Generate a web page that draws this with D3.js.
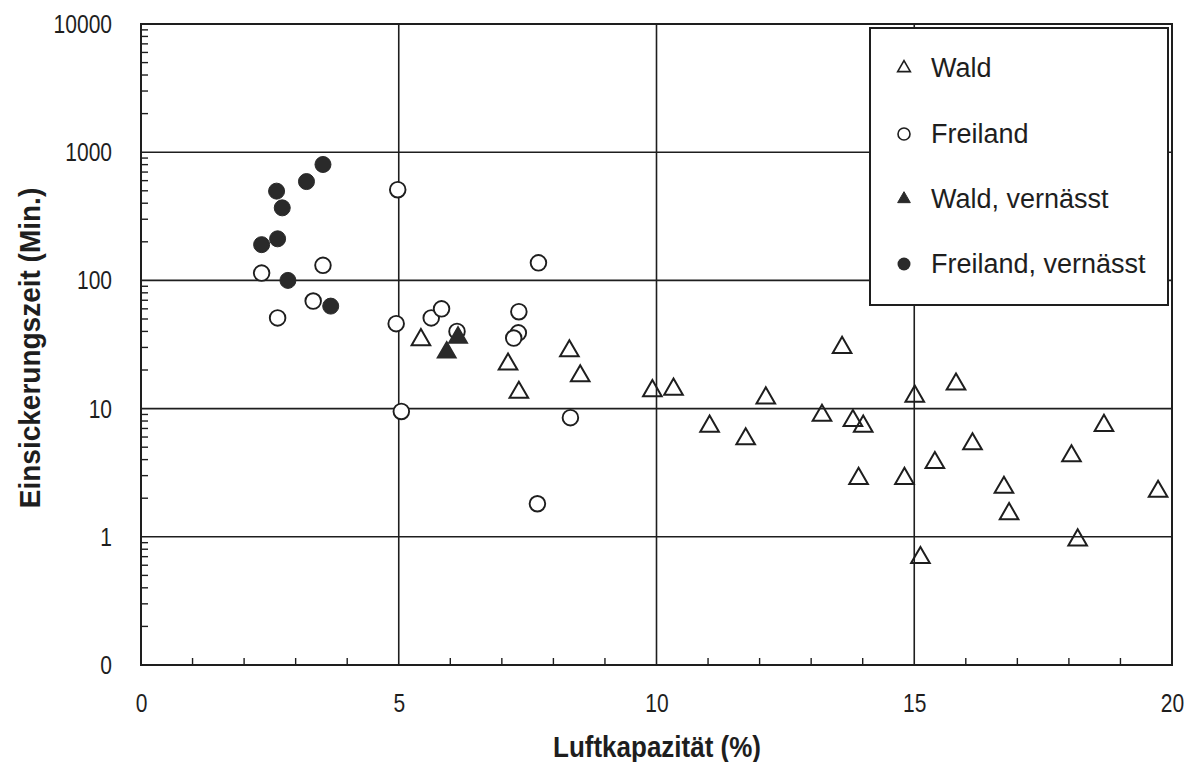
<!DOCTYPE html>
<html>
<head>
<meta charset="utf-8">
<script src="https://cdn.jsdelivr.net/npm/d3@7"></script>
<style>
  html, body { margin: 0; padding: 0; background: #fff; }
  svg { display: block; }
  text { font-family: "Liberation Sans", Arial, Helvetica, sans-serif; fill: #1e1e1e; }
</style>
</head>
<body>
<svg id="chart" width="1194" height="762"></svg>
<script>
// ---- data ----
const waldData = [
  [5.43, 35], [7.12, 22.6], [7.33, 13.6], [8.31, 28.7], [8.52, 18.3],
  [9.92, 14.0], [10.33, 14.4], [11.03, 7.4], [11.73, 5.9], [12.12, 12.3],
  [13.21, 9.0], [13.60, 30.5], [13.81, 8.2], [14.01, 7.4], [13.92, 2.9],
  [14.81, 2.9], [15.01, 12.7], [15.12, 0.70], [15.40, 3.85], [15.81, 15.8],
  [16.13, 5.4], [16.74, 2.47], [16.84, 1.54], [18.05, 4.35], [18.68, 7.5],
  [18.17, 0.96], [19.73, 2.3]
];
const freilandData = [
  [2.34, 114], [2.65, 51], [3.34, 69], [3.53, 131], [4.98, 510],
  [4.95, 46], [5.05, 9.5], [5.63, 51], [5.83, 60], [6.13, 40],
  [7.33, 57], [7.32, 39], [7.23, 35.5], [7.71, 137], [8.33, 8.5], [7.69, 1.81]
];
const waldNassData = [[5.93, 27.9], [6.15, 36.5]];
const freilandNassData = [
  [2.34, 190], [2.65, 211], [2.63, 497], [2.74, 368],
  [3.21, 590], [3.53, 802], [2.85, 100], [3.68, 63]
];
const xTicks = [0, 5, 10, 15, 20];
const yTicks = [0.1, 1, 10, 100, 1000, 10000];
const yTickLabels = ["0", "1", "10", "100", "1000", "10000"];
const legendLabels = ["Wald", "Freiland", "Wald, vernässt", "Freiland, vernässt"];
const xTitle = "Luftkapazität (%)";
const yTitle = "Einsickerungszeit (Min.)";

// ---- layout ----
const svg = d3.select("#chart");
const L = 141, R = 1172, T = 24, B = 665;
const ink = "#1e1e1e";
const fill = "#2a2a2a";
const tickStretch = 1.25;

const x = d3.scaleLinear().domain([0, 20]).range([L, R]);
const y = d3.scaleLog().domain([0.1, 10000]).range([B, T]);

// gridlines
const g = svg.append("g");
g.selectAll("line.vg").data([5, 10, 15]).join("line")
  .attr("x1", d => x(d)).attr("x2", d => x(d)).attr("y1", T).attr("y2", B)
  .attr("stroke", ink).attr("stroke-width", 1.6);
g.selectAll("line.hg").data([1, 10, 100, 1000]).join("line")
  .attr("x1", L).attr("x2", R).attr("y1", d => y(d)).attr("y2", d => y(d))
  .attr("stroke", ink).attr("stroke-width", 1.6);

// minor ticks on y (inside)
const yMinor = [];
[0.1, 1, 10, 100, 1000].forEach(dec => { for (let k = 2; k <= 9; k++) yMinor.push(dec * k); });
g.selectAll("line.ym").data(yMinor).join("line")
  .attr("x1", L).attr("x2", L + 7).attr("y1", d => y(d)).attr("y2", d => y(d))
  .attr("stroke", ink).attr("stroke-width", 1.4);
// minor ticks on x (inside)
g.selectAll("line.xm").data(d3.range(1, 20).filter(v => v % 5 !== 0)).join("line")
  .attr("x1", d => x(d)).attr("x2", d => x(d)).attr("y1", B).attr("y2", B - 7)
  .attr("stroke", ink).attr("stroke-width", 1.4);

// frame
svg.append("rect").attr("x", L).attr("y", T).attr("width", R - L).attr("height", B - T)
  .attr("fill", "none").attr("stroke", ink).attr("stroke-width", 2);

// axis labels via d3 axes (no domain / tick lines drawn)
const xAxis = d3.axisBottom(x).tickValues(xTicks).tickSize(0).tickFormat(d3.format("d"));
const xa = svg.append("g").attr("transform", `translate(0,${B})`).call(xAxis);
xa.select(".domain").remove();
xa.selectAll("text")
  .attr("font-size", 21).attr("fill", ink)
  .style("font-family", "'Liberation Sans', Arial, sans-serif")
  .attr("y", 47 / tickStretch).attr("dy", 0)
  .attr("transform", `scale(1,${tickStretch})`);

const yAxis = d3.axisLeft(y).tickValues(yTicks).tickSize(0).tickPadding(29)
  .tickFormat((d, i) => yTickLabels[i]);
const ya = svg.append("g").attr("transform", `translate(${L},0)`).call(yAxis);
ya.select(".domain").remove();
ya.selectAll("text")
  .attr("font-size", 21).attr("fill", ink)
  .style("font-family", "'Liberation Sans', Arial, sans-serif")
  .attr("transform", `scale(1,${tickStretch})`);

// titles
svg.append("text").attr("transform", "translate(657,757) scale(1,1.12)")
  .attr("text-anchor", "middle")
  .attr("font-size", 26).attr("font-weight", "bold").text(xTitle);
svg.append("text").attr("transform", "translate(40,348) rotate(-90) scale(1,1.06)")
  .attr("text-anchor", "middle").attr("font-size", 28).attr("font-weight", "bold").text(yTitle);

// symbols
const tri = d3.symbol().type(d3.symbolTriangle).size(150);
const triSmall = d3.symbol().type(d3.symbolTriangle).size(70);
const pts = svg.append("g");
pts.selectAll("circle.fr").data(freilandData).join("circle")
  .attr("cx", d => x(d[0])).attr("cy", d => y(d[1])).attr("r", 7.8)
  .attr("fill", "#fff").attr("stroke", ink).attr("stroke-width", 1.9);
pts.selectAll("path.w").data(waldData).join("path")
  .attr("d", tri).attr("transform", d => `translate(${x(d[0])},${y(d[1]) + 1})`)
  .attr("fill", "none").attr("stroke", ink).attr("stroke-width", 2);
pts.selectAll("path.wn").data(waldNassData).join("path")
  .attr("d", tri).attr("transform", d => `translate(${x(d[0])},${y(d[1]) + 1})`)
  .attr("fill", fill).attr("stroke", fill).attr("stroke-width", 1.5);
pts.selectAll("circle.fn").data(freilandNassData).join("circle")
  .attr("cx", d => x(d[0])).attr("cy", d => y(d[1])).attr("r", 8)
  .attr("fill", fill).attr("stroke", fill).attr("stroke-width", 1);

// legend
const lg = svg.append("g");
lg.append("rect").attr("x", 870).attr("y", 28).attr("width", 298).attr("height", 277)
  .attr("fill", "#fff").attr("stroke", ink).attr("stroke-width", 2);
const rows = [68, 134, 199, 264];
const symX = 904;
lg.append("path").attr("d", triSmall).attr("transform", `translate(${symX},${rows[0]})`)
  .attr("fill", "none").attr("stroke", ink).attr("stroke-width", 1.6);
lg.append("circle").attr("cx", symX).attr("cy", rows[1]).attr("r", 6)
  .attr("fill", "none").attr("stroke", ink).attr("stroke-width", 1.6);
lg.append("path").attr("d", triSmall).attr("transform", `translate(${symX},${rows[2]})`)
  .attr("fill", fill).attr("stroke", fill).attr("stroke-width", 1);
lg.append("circle").attr("cx", symX).attr("cy", rows[3]).attr("r", 6.5)
  .attr("fill", fill);
lg.selectAll("text.lt").data(legendLabels).join("text")
  .attr("x", 931).attr("y", (d, i) => rows[i] + 9).attr("font-size", 27).text(d => d);
</script>
</body>
</html>
